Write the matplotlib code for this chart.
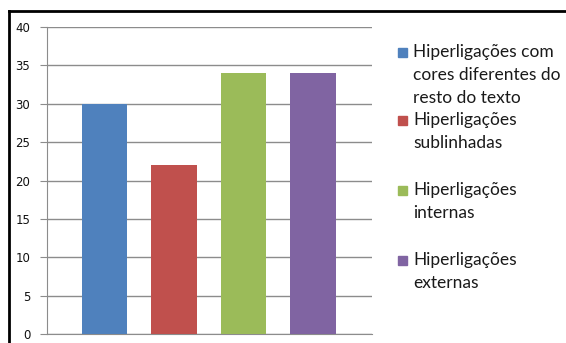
import matplotlib
matplotlib.use("Agg")
import matplotlib.pyplot as plt
from matplotlib.patches import Rectangle
from matplotlib.lines import Line2D

categories = ["Hiperligações com\ncores diferentes do\nresto do texto",
              "Hiperligações\nsublinhadas",
              "Hiperligações\ninternas",
              "Hiperligações\nexternas"]
values = [30, 22, 34, 34]
colors = ["#4F81BD", "#C0504D", "#9BBB59", "#8064A2"]
yticks = [0, 5, 10, 15, 20, 25, 30, 35, 40]

W, H = 566, 343
fig = plt.figure(figsize=(W/100, H/100), dpi=100)
ax = fig.add_axes([47/W, 1-334/H, (372-47)/W, (334-27)/H])

x = list(range(len(values)))
ax.bar(x, values, width=0.66, color=colors, zorder=3)
ax.set_xlim(-0.827, 3.849)
ax.set_ylim(0, 40)
ax.set_yticks(yticks)
ax.set_yticklabels([str(t) for t in yticks], fontsize=8.5, color="#111111",
                   family="DejaVu Sans")
ax.set_xticks([])
ax.grid(axis="y", color="#8c8c8c", linewidth=1, zorder=0)
for s in ["top", "right"]:
    ax.spines[s].set_visible(False)
ax.spines["left"].set_color("#8c8c8c")
ax.spines["bottom"].set_color("#8c8c8c")
ax.tick_params(axis="y", length=5, color="#8c8c8c", pad=7)

# legend
entries_y = [52, 120, 190, 260]
for lab, col, yy in zip(categories, colors, entries_y):
    fig.patches.append(Rectangle((398/W, 1-(yy+5)/H), 9/W, 9/H,
                                 transform=fig.transFigure, color=col))
    fig.text(413/W, 1-(yy-8)/H, lab, fontsize=12.5, family="Lato",
             color="#1a1a1a", va="top", ha="left", linespacing=1.55)

# frame border
fig.add_artist(Line2D([9/W, 9/W], [0, 1-11/H], color="black", linewidth=2,
                      transform=fig.transFigure))
fig.add_artist(Line2D([9/W, 1], [1-11/H, 1-11/H], color="black", linewidth=2,
                      transform=fig.transFigure))

fig.savefig("out.png", dpi=100)
